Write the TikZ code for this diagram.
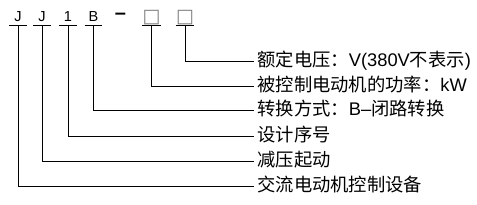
\documentclass[tikz,border=0pt]{standalone}
\usepackage{fontspec}
\setmainfont{Liberation Sans}
\newfontfamily\cjk{Noto Sans CJK SC}
\newfontfamily\dejavu{DejaVu Sans}
\begin{document}
\begin{tikzpicture}[x=1pt,y=-1pt,line width=0.8pt,
  code/.style={font=\fontsize{14.5}{14.5}\selectfont, minimum width=17pt, inner xsep=0pt, inner ysep=3pt, text depth=0pt, anchor=south},
  placeholder/.style={code, font=\dejavu\fontsize{19}{19}\selectfont, text=gray, inner ysep=2pt},
  lbl/.style={font=\fontsize{18.3}{18.3}\selectfont, anchor=west, inner xsep=3pt, inner ysep=0pt, text height=15pt, text depth=5pt}]
\useasboundingbox (0,0) rectangle (477,204);
% code letters
\node[code] (J1) at (18,25) {J};
\node[code] (J2) at (42,25) {J};
\node[code] (one) at (68,25) {1};
\node[code] (B) at (93.5,25) {B};
\node[font=\bfseries\fontsize{20}{20}\selectfont, inner sep=0pt] (dash) at (120.5,16.5) {–};
\node[placeholder] (p1) at (151.5,25) {□};
\node[placeholder] (p2) at (185,25) {□};
% labels
\node[lbl] (L1) at (254,61) {{\cjk 额定电压：}V(380V{\cjk 不表示})};
\node[lbl] (L2) at (254,86) {{\cjk 被控制电动机的功率：}kW};
\node[lbl] (L3) at (254,110) {{\cjk 转换方式：}B–{\cjk 闭路转换}};
\node[lbl] (L4) at (254,136) {\cjk 设计序号};
\node[lbl] (L5) at (254,161) {\cjk 减压起动};
\node[lbl] (L6) at (254,186) {\cjk 交流电动机控制设备};
% underlines
\foreach \n in {J1,J2,one,B,p1,p2}
  \draw (\n.south west) -- (\n.south east);
% connectors
\draw (p2.south) |- (L1.west);
\draw (p1.south) |- (L2.west);
\draw (B.south) |- (L3.west);
\draw (one.south) |- (L4.west);
\draw (J2.south) |- (L5.west);
\draw (J1.south) |- (L6.west);
\end{tikzpicture}
\end{document}
